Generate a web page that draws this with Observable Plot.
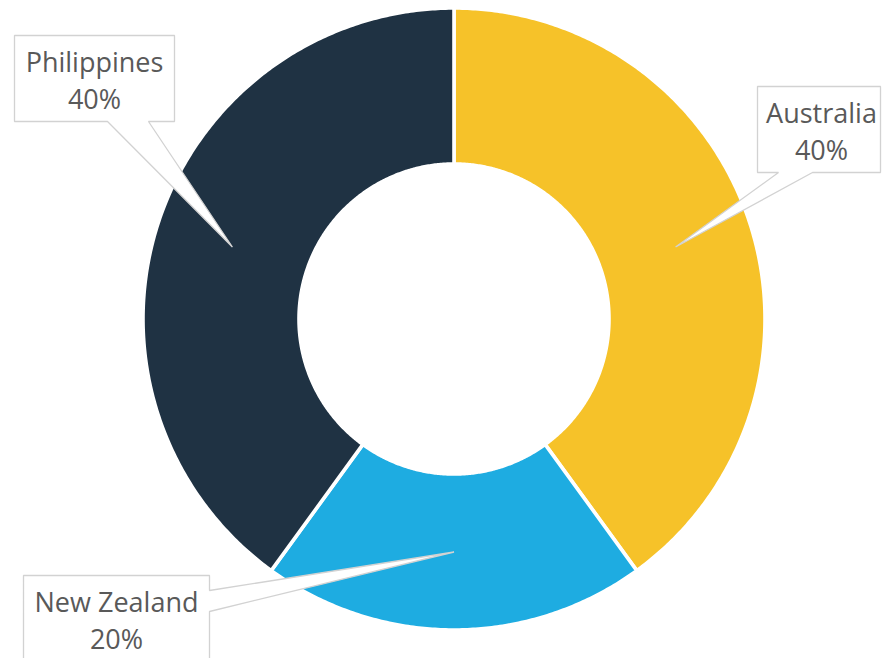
<!DOCTYPE html>
<html>
<head>
<meta charset="utf-8">
<script src="https://cdn.jsdelivr.net/npm/d3@7"></script>
<script src="https://cdn.jsdelivr.net/npm/@observablehq/plot@0.6"></script>
<style>
  html, body { margin: 0; padding: 0; background: #fff; overflow: hidden; }
  #chart svg { display: block; }
</style>
</head>
<body>
<div id="chart"></div>
<script>
// ---- data ----
const categories = ["Australia", "New Zealand", "Philippines"];
const shares = [40, 20, 40];

// ---- style / layout ----
const W = 882, H = 658;
const CX = 453.5, CY = 318.5;          // ring centre (px)
const R_OUT = 311, R_IN = 155;         // ring radii (px)
const SEP = 3.6;                       // white separator width
const palette = ["#F6C229", "#1EACE1", "#1F3243"];
const textColor = "#595959";
const calloutStroke = "#D2D2D2";
const FONT = "Open Sans";
const FONT_SIZE = 27;
// callout boxes (px layout), pointer base positions along one side
const callouts = {
  "Australia":   {x1: 757, x2: 880, y1: 86,  y2: 172, side: "bottom", b1: 778, b2: 812, tx: 821},
  "New Zealand": {x1: 23,  x2: 209, y1: 575, y2: 661, side: "right",  b1: 590, b2: 611, tx: 116},
  "Philippines": {x1: 14,  x2: 174, y1: 35,  y2: 121, side: "bottom", b1: 107, b2: 148, tx: 94}
};

// ---- derived geometry (angles from data) ----
const total = d3.sum(shares);
const rad = d => d * Math.PI / 180;
const polar = (r, deg) => ({x: r * Math.sin(rad(deg)), y: -r * Math.cos(rad(deg))});

let acc = 0;
const slices = categories.map((c, i) => {
  const a0 = acc / total * 360;
  acc += shares[i];
  const a1 = acc / total * 360;
  return {category: c, share: shares[i], a0, a1, mid: (a0 + a1) / 2};
});

const ringPoints = [];
for (const s of slices) {
  const n = Math.max(2, Math.ceil((s.a1 - s.a0) * 2));
  for (let k = 0; k <= n; k++) {
    const a = s.a0 + (s.a1 - s.a0) * k / n;
    ringPoints.push({category: s.category, ...polar(R_OUT, a)});
  }
  for (let k = n; k >= 0; k--) {
    const a = s.a0 + (s.a1 - s.a0) * k / n;
    ringPoints.push({category: s.category, ...polar(R_IN, a)});
  }
}

// callout polygons: box + pointer to the slice centroid
const px = (x, y) => ({x: x - CX, y: y - CY});
const calloutPoints = [];
const labelTexts = [];
for (const s of slices) {
  const b = callouts[s.category];
  const tip = polar((R_OUT + R_IN) / 2, s.mid);
  let pts;
  if (b.side === "bottom") {
    pts = [px(b.x1, b.y1), px(b.x2, b.y1), px(b.x2, b.y2), px(b.b2, b.y2), tip, px(b.b1, b.y2), px(b.x1, b.y2)];
  } else {
    pts = [px(b.x1, b.y1), px(b.x2, b.y1), px(b.x2, b.b1), tip, px(b.x2, b.b2), px(b.x2, b.y2), px(b.x1, b.y2)];
  }
  pts.forEach(p => calloutPoints.push({category: s.category, ...p}));
  labelTexts.push({...px(b.tx, b.y1 + 36), text: s.category});
  labelTexts.push({...px(b.tx, b.y1 + 73), text: `${s.share}%`});
}

const chart = Plot.plot({
  width: W,
  height: H,
  margin: 0,
  style: {background: "#fff", fontFamily: FONT},
  x: {domain: [-CX, W - CX], range: [0, W], axis: null},
  y: {domain: [-CY, H - CY], range: [0, H], axis: null},
  color: {domain: categories, range: palette},
  marks: [
    Plot.line(ringPoints, {
      x: "x", y: "y", z: "category", fill: "category",
      stroke: "white", strokeWidth: SEP, strokeLinejoin: "round",
      curve: "linear-closed"
    }),
    Plot.line(calloutPoints, {
      x: "x", y: "y", z: "category",
      fill: "white", stroke: calloutStroke, strokeWidth: 1.3,
      strokeLinejoin: "miter", curve: "linear-closed"
    }),
    Plot.text(labelTexts, {
      x: "x", y: "y", text: "text",
      textAnchor: "middle", lineAnchor: "bottom",
      fontSize: FONT_SIZE, fill: textColor, fontFamily: FONT
    })
  ]
});
document.getElementById("chart").appendChild(chart);
</script>
</body>
</html>
